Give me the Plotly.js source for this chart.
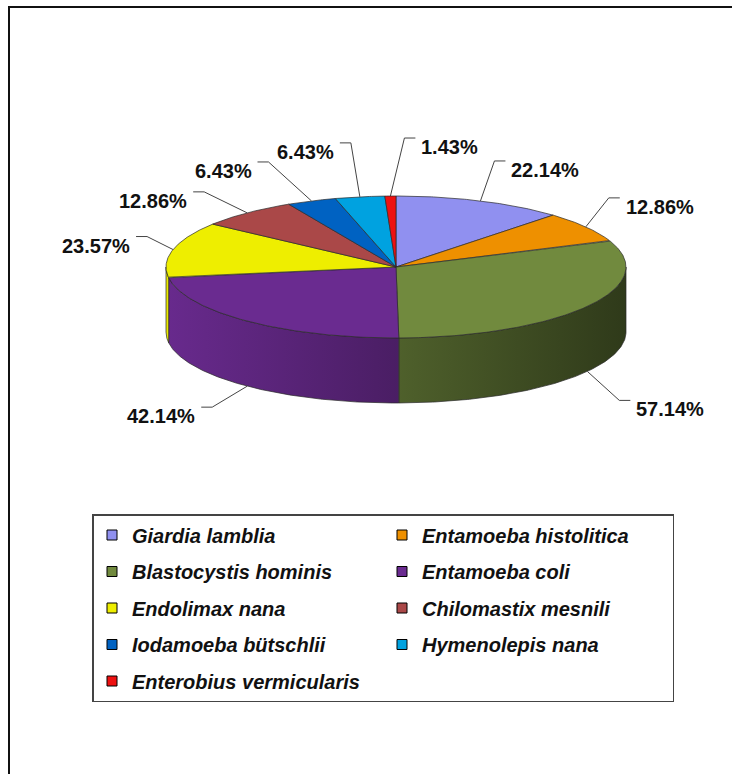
<!DOCTYPE html>
<html><head><meta charset="utf-8">
<script src="https://cdn.plot.ly/plotly-3.0.1.min.js"></script>
<style>html,body{margin:0;padding:0;background:#fff;} #chart{width:732px;height:774px;}</style>
</head><body><div id="chart"></div>
<script>
// ---------- data ----------
const species = ['Giardia lamblia','Entamoeba histolitica','Blastocystis hominis','Entamoeba coli',
  'Endolimax nana','Chilomastix mesnili','Iodamoeba bütschlii','Hymenolepis nana','Enterobius vermicularis'];
const percentages = [22.14, 12.86, 57.14, 42.14, 23.57, 12.86, 6.43, 6.43, 1.43];
const sliceColors = ['#9090F0','#EE9000','#718A3E','#6A2B90','#EEEE00','#AA4848','#0062C2','#00A2E0','#EE1111'];

// ---------- style / layout config (pixels; axes map 1 unit = 1 px) ----------
const pie = {cx: 396, cy: 267, rx: 230, ry: 71, depth: 65};
const labelOffsets = [[14,-40],[23,-29],[32,29],[-35,21],[-26,-13],[-43,-21],[-43,-39],[-9,-54],[14,-58]];
const leaderSeg = 11, labelGap = 4, labelDy = 9;
const W = 732, H = 774;

function shade(hex, f) {
  const n = parseInt(hex.slice(1), 16);
  const r = Math.round(((n >> 16) & 255) * f), g = Math.round(((n >> 8) & 255) * f), b = Math.round((n & 255) * f);
  return `rgb(${r},${g},${b})`;
}
function pt(theta, dz) {
  const t = theta * Math.PI / 180;
  return [pie.cx + pie.rx * Math.sin(t), pie.cy - pie.ry * Math.cos(t) + (dz || 0)];
}
function arc(a, b, dz) {
  const n = Math.max(2, Math.ceil(Math.abs(b - a) / 0.5));
  const out = [];
  for (let i = 0; i <= n; i++) out.push(pt(a + (b - a) * i / n, dz));
  return out;
}

const total = percentages.reduce((s, v) => s + v, 0);
const slices = [];
let acc = 0;
percentages.forEach((v, i) => {
  const a = acc / total * 360, b = (acc + v) / total * 360;
  slices.push({a, b, mid: (a + b) / 2, color: sliceColors[i], value: v, name: species[i]});
  acc += v;
});

const edge = {color: '#2a2a2a', width: 0.7};
const traces = [];

// side walls (visible front half: 90..270 deg)
slices.forEach(s => {
  const s0 = Math.max(s.a, 90), s1 = Math.min(s.b, 270);
  if (s1 <= s0) return;
  const pts = arc(s0, s1, 0).concat(arc(s1, s0, pie.depth));
  pts.push(pts[0]);
  traces.push({
    type: 'scatter', mode: 'lines', x: pts.map(p => p[0]), y: pts.map(p => p[1]),
    fill: 'toself',
    fillgradient: {type: 'horizontal', colorscale: [[0, shade(s.color, 0.98)], [1, shade(s.color, 0.42)]],
      start: pie.cx - pie.rx, stop: pie.cx + pie.rx},
    line: edge, hoverinfo: 'skip', showlegend: false
  });
});

// top faces
slices.forEach(s => {
  const pts = [[pie.cx, pie.cy]].concat(arc(s.a, s.b, 0));
  pts.push([pie.cx, pie.cy]);
  traces.push({
    type: 'scatter', mode: 'lines', x: pts.map(p => p[0]), y: pts.map(p => p[1]),
    fill: 'toself', fillcolor: s.color, line: edge, hoverinfo: 'skip', showlegend: false
  });
});

// leader lines + labels
const lx = [], ly = [];
const annotations = [];
slices.forEach((s, i) => {
  const front = s.mid > 90 && s.mid < 270;
  const p = pt(s.mid, front ? pie.depth : 0);
  const off = labelOffsets[i];
  const e = [p[0] + off[0], p[1] + off[1]];
  const dir = off[0] >= 0 ? 1 : -1;
  const h = [e[0] + dir * leaderSeg, e[1]];
  lx.push(p[0], e[0], h[0], null);
  ly.push(p[1], e[1], h[1], null);
  annotations.push({
    x: h[0] + dir * labelGap, y: e[1] + labelDy, xref: 'x', yref: 'y',
    xanchor: dir > 0 ? 'left' : 'right', yanchor: 'middle', showarrow: false,
    text: s.value.toFixed(2) + '%',
    font: {family: 'Liberation Sans, Arial, sans-serif', size: 20, weight: 'bold', color: '#111'}
  });
});
traces.push({type: 'scatter', mode: 'lines', x: lx, y: ly, line: {color: '#444', width: 1},
  hoverinfo: 'skip', showlegend: false});

// legend entries
slices.forEach((s, i) => {
  traces.push({
    type: 'scatter', mode: 'markers', x: [null], y: [null], name: s.name, legendgroup: 'g' + i,
    marker: {symbol: 'square', size: 10, color: s.color, line: {color: '#000', width: 1}},
    showlegend: true, hoverinfo: 'skip'
  });
});

const layout = {
  width: W, height: H, margin: {l: 0, r: 0, t: 0, b: 0},
  paper_bgcolor: '#fff', plot_bgcolor: '#fff',
  xaxis: {range: [0, W], visible: false, fixedrange: true},
  yaxis: {range: [H, 0], visible: false, fixedrange: true},
  showlegend: true,
  legend: {
    orientation: 'h', traceorder: 'grouped', x: 92 / W, y: 1 - 514 / H, xanchor: 'left', yanchor: 'top',
    entrywidth: 245, tracegroupgap: 7.5, bgcolor: '#fff', bordercolor: '#444', borderwidth: 1.5,
    font: {family: 'Liberation Sans, Arial, sans-serif', size: 20, weight: 'bold', style: 'italic', color: '#111'}
  },
  annotations: annotations,
  shapes: [{type: 'path', xref: 'x', yref: 'y', path: `M 9 ${H} L 9 7 L ${W} 7`,
    line: {color: '#111', width: 2}}]
};

Plotly.newPlot('chart', traces, layout, {staticPlot: true, displayModeBar: false});
</script>
</body></html>
